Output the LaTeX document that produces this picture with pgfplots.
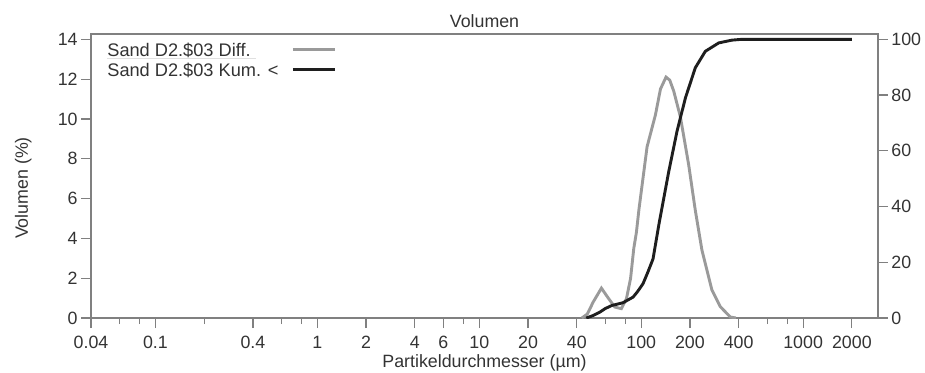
\documentclass[border=0pt]{standalone}
\usepackage{pgfplots}
\pgfplotsset{compat=1.18}
\usepackage{fontspec}
\setmainfont{Liberation Sans}
\definecolor{txt}{HTML}{333333}
\definecolor{axc}{HTML}{808080}
\definecolor{diffc}{HTML}{9A9A9A}
\definecolor{kumc}{HTML}{1E1E1E}
\pgfplotstableread{
d v
43 0
46.5 0.2
50.5 0.8
56.8 1.5
62 1.05
68.7 0.55
75.4 0.47
81.1 0.97
86 2.0
90 3.5
93.4 4.3
97 5.5
108.7 8.6
122.4 10.2
131.5 11.5
142.3 12.1
150 11.95
158.8 11.4
174.6 10.1
196.4 7.7
215.9 5.4
237.3 3.4
273.5 1.4
308 0.57
355 0.05
385 0
}\diffdata
\pgfplotstableread{
d v
45.8 0
50 0.8
55.5 2.1
60 3.4
65.9 4.5
77.3 5.5
89.1 7.5
95 9.5
102.6 12.3
110 16.5
118.3 21.2
129 34
147.9 52.5
166.4 67
187.6 79
215.9 89.8
248.9 95.7
301 98.7
363 99.7
420 100
2000 100
}\kumdata
\begin{document}
\begin{tikzpicture}
\useasboundingbox (-45.5pt,-27pt) rectangle (417pt,159pt);
\pgfplotsset{
  every axis/.append style={
    font=\fontsize{8.9}{10.5}\selectfont,
    /pgf/number format/assume math mode=true,
  },
}
\begin{axis}[
  at={(0pt,0pt)}, anchor=south west,
  scale only axis,
  width=393.5pt, height=142.25pt,
  xmode=log,
  xmin=0.04, xmax=2900,
  ymin=0, ymax=14.29,
  axis line style={axc, line width=1pt},
  tick style={axc, line width=0.6pt},
  tick align=outside,
  major tick length=5pt,
  minor tick length=3pt,
  xtick pos=left, ytick pos=left,
  xtick={0.04,0.1,0.4,1,2,4,6,10,20,40,100,200,400,1000,2000},
  xticklabels={0.04,0.1,0.4,1,2,4,6,10,20,40,100,200,400,1000,2000},
  minor xtick={0.06,0.08,0.2,0.6,0.8,8,60,80,600,800},
  ytick={0,2,...,14},
  ticklabel style={text=txt},
  xticklabel style={anchor=base, inner sep=0pt, yshift=-10pt},
  yticklabel style={inner sep=1.5pt},
  title={Volumen},
  title style={text=txt, at={(axis description cs:0.5,1)}, anchor=base, inner sep=0pt, yshift=-3pt},
  xlabel={Partikeldurchmesser (µm)},
  xlabel style={text=txt, at={(axis description cs:0.5,-0.175)}, anchor=base, inner sep=0pt},
  ylabel={Volumen (\%)},
  ylabel style={text=txt, at={(axis description cs:-0.086,0.457)}, anchor=center, inner sep=0pt},
  legend plot pos=right,
  legend cell align=left,
  legend style={draw=none, fill=none, text=txt,
    font=\fontsize{9.1}{10}\selectfont,
    at={(axis description cs:0.0203,0.9666)}, anchor=north west,
    row sep=3.5pt, inner sep=0pt,
    nodes={fill=none, inner sep=0pt, text height=6.5pt, text depth=0pt},
    /tikz/every odd column/.append style={column sep=6.5pt}},
  legend image code/.code={\draw[#1] (0cm,0cm) -- (21pt,0cm);},
]
\addplot[diffc, line width=1.45pt] table[x=d,y=v] {\diffdata};
\addlegendentry{Sand D2.\$03 Diff.}
\addlegendimage{kumc, line width=1.45pt}
\addlegendentry{Sand D2.\$03 Kum. <}
\end{axis}
\begin{axis}[
  at={(0pt,0pt)}, anchor=south west,
  scale only axis,
  width=393.5pt, height=142.25pt,
  xmode=log,
  xmin=0.04, xmax=2900,
  ymin=0, ymax=102.08,
  axis x line=none,
  axis y line*=right,
  axis line style={axc, line width=1pt, -},
  tick style={axc, line width=0.6pt},
  tick align=outside,
  major tick length=5pt,
  ytick={0,20,...,100},
  ticklabel style={text=txt},
  yticklabel style={inner sep=1.5pt},
]
\addplot[kumc, line width=1.45pt] table[x=d,y=v] {\kumdata};
\draw[black!12, line width=0.5pt] (axis description cs:0.0203,0.9128) -- (axis description cs:0.2097,0.9128);
\end{axis}
\end{tikzpicture}
\end{document}
